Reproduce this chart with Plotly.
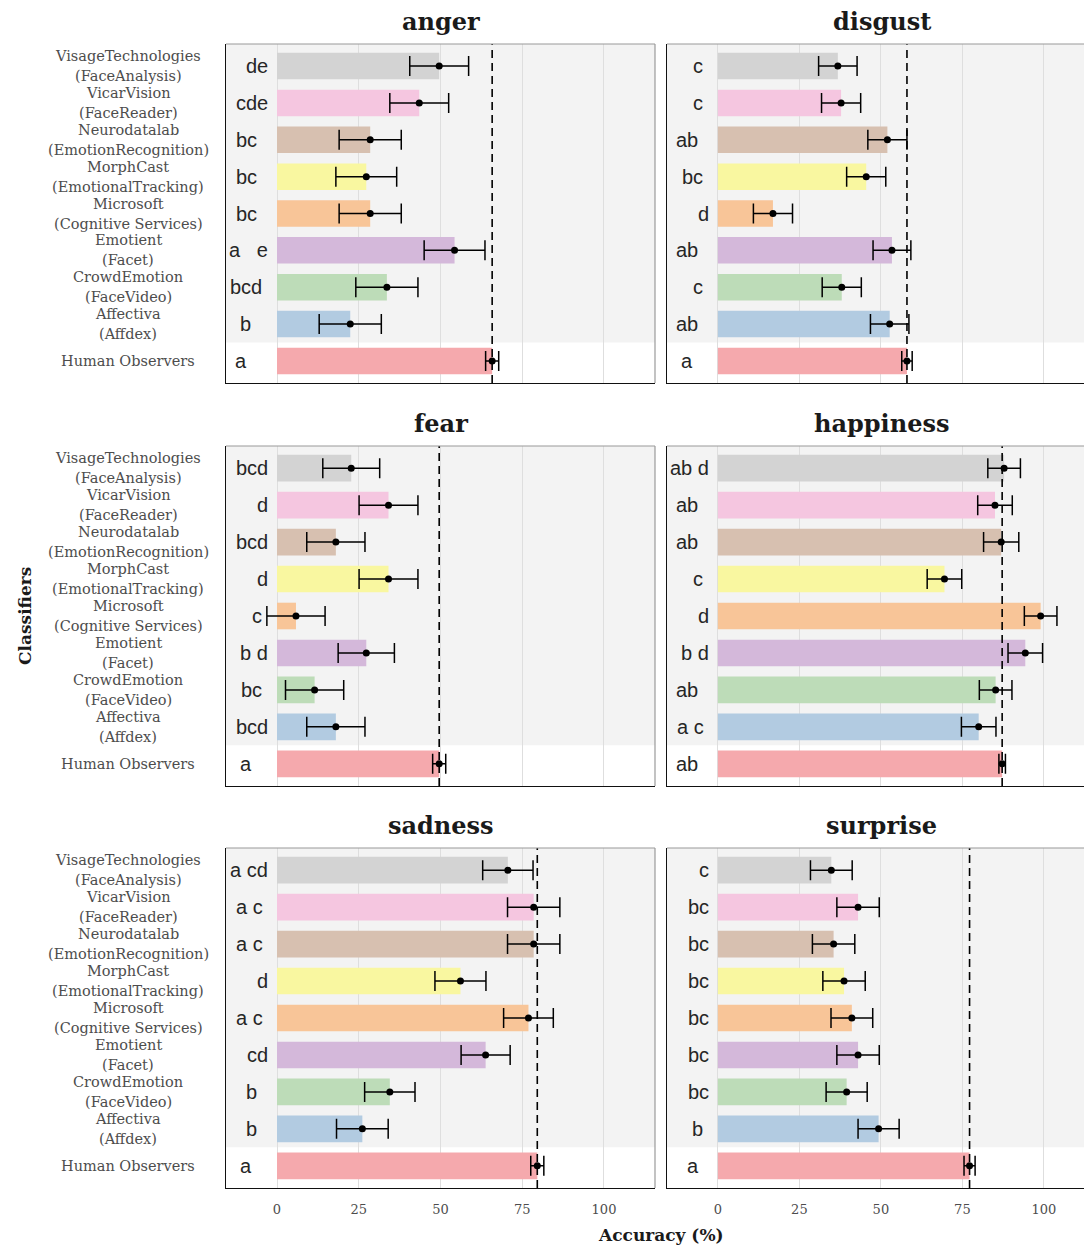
import plotly.graph_objects as go

# ---------------- data (top-to-bottom order as drawn) ----------------
classifier_names = ["VisageTechnologies", "VicarVision", "Neurodatalab", "MorphCast",
                    "Microsoft", "Emotient", "CrowdEmotion", "Affectiva", "Human Observers"]
classifier_subs = ["(FaceAnalysis)", "(FaceReader)", "(EmotionRecognition)", "(EmotionalTracking)",
                   "(Cognitive Services)", "(Facet)", "(FaceVideo)", "(Affdex)", ""]
bar_colors = ["#d3d3d3", "#f5c6e0", "#d7c0b0", "#f9f7a0", "#f8c598",
              "#d4b8da", "#bddcb8", "#b2cbe1", "#f5a9ad"]

emotions = ["anger", "disgust", "fear", "happiness", "sadness", "surprise"]

anger_mean = [49.6, 43.5, 28.5, 27.3, 28.5, 54.3, 33.6, 22.4, 65.8]
anger_err = [9.0, 9.0, 9.5, 9.3, 9.5, 9.3, 9.5, 9.5, 2.0]
anger_letters = ["de", "cde", "bc", "bc", "bc", "ae", "bcd", "b", "a"]

disgust_mean = [36.8, 37.8, 52.0, 45.5, 16.9, 53.4, 38.0, 52.7, 58.0]
disgust_err = [5.9, 6.0, 6.0, 6.0, 6.0, 5.8, 6.0, 5.9, 1.6]
disgust_letters = ["c", "c", "ab", "bc", "d", "ab", "c", "ab", "a"]

fear_mean = [22.7, 34.1, 18.0, 34.1, 5.8, 27.3, 11.5, 18.0, 49.6]
fear_err = [8.7, 9.0, 8.9, 9.0, 8.9, 8.6, 8.9, 8.9, 2.0]
fear_letters = ["bcd", "d", "bcd", "d", "c", "bd", "bc", "bcd", "a"]

happiness_mean = [87.8, 85.0, 86.9, 69.5, 99.0, 94.3, 85.2, 80.0, 87.2]
happiness_err = [5.0, 5.3, 5.4, 5.3, 5.0, 5.3, 5.0, 5.3, 1.0]
happiness_letters = ["abd", "ab", "ab", "c", "d", "bd", "ab", "ac", "ab"]

sadness_mean = [70.6, 78.5, 78.5, 56.1, 76.9, 63.8, 34.5, 26.1, 79.6]
sadness_err = [7.7, 8.0, 8.0, 7.8, 7.6, 7.5, 7.7, 7.9, 2.0]
sadness_letters = ["acd", "ac", "ac", "d", "ac", "cd", "b", "b", "a"]

surprise_mean = [34.8, 43.0, 35.5, 38.7, 41.1, 43.0, 39.5, 49.3, 77.2]
surprise_err = [6.4, 6.5, 6.5, 6.5, 6.4, 6.5, 6.3, 6.3, 1.7]
surprise_letters = ["c", "bc", "bc", "bc", "bc", "bc", "bc", "b", "a"]

x_ticks = [0, 25, 50, 75, 100]

panel_data = {
    "anger": (anger_mean, anger_err, anger_letters),
    "disgust": (disgust_mean, disgust_err, disgust_letters),
    "fear": (fear_mean, fear_err, fear_letters),
    "happiness": (happiness_mean, happiness_err, happiness_letters),
    "sadness": (sadness_mean, sadness_err, sadness_letters),
    "surprise": (surprise_mean, surprise_err, surprise_letters),
}

# ---------------- layout geometry ----------------
W, H = 1084, 1250
def px_x(p): return p / W
def px_y(p): return 1 - p / H

col_px = [(226, 655), (667, 1084)]
row_px = [(44, 383), (446, 786), (848, 1188)]
x_ranges = [[-15.6, 115.6], [-15.6, 112.3]]
y_range = [-0.6, 8.6]

cats = [f"{n} {s}".strip() for n, s in zip(classifier_names, classifier_subs)]
cat_order = cats[::-1]  # bottom to top

SERIF = "DejaVu Serif"
SANS = "Liberation Sans"
TXT = "#4d4d4d"

def pad_letters(s, maxch):
    out = ""
    for c in "abcdefgh":
        if c > maxch:
            break
        out += c if c in s else "\u00a0"
    return out.lstrip("\u00a0")

fig = go.Figure()
shapes = []
annotations = []
layout = {}

for i, emo in enumerate(emotions):
    r, c = divmod(i, 2)
    n = i + 1
    xa = "x" if n == 1 else f"x{n}"
    ya = "y" if n == 1 else f"y{n}"
    mean, err, letters = panel_data[emo]

    fig.add_trace(go.Bar(
        x=mean, y=cats, orientation="h", width=0.72,
        marker=dict(color=bar_colors, line=dict(width=0)),
        xaxis=xa, yaxis=ya, showlegend=False, hoverinfo="skip"))
    fig.add_trace(go.Scatter(
        x=mean, y=cats, mode="markers",
        marker=dict(color="black", size=7),
        error_x=dict(type="data", array=err, visible=True, color="black",
                     thickness=1.5, width=10),
        xaxis=xa, yaxis=ya, showlegend=False, hoverinfo="skip"))

    x0p, x1p = col_px[c]
    y0p, y1p = row_px[r]
    layout["xaxis" if n == 1 else f"xaxis{n}"] = dict(
        domain=[px_x(x0p), px_x(x1p)], anchor=ya, range=x_ranges[c],
        tickvals=x_ticks, showgrid=True, gridcolor="#dedede", gridwidth=1,
        zeroline=False, showline=True, linecolor="#111111", linewidth=1.4,
        showticklabels=(r == 2), ticks="", ticklabelstandoff=9,
        tickfont=dict(family=SERIF, size=13, color=TXT), fixedrange=True)
    layout["yaxis" if n == 1 else f"yaxis{n}"] = dict(
        domain=[px_y(y1p), px_y(y0p)], anchor=xa, type="category",
        categoryorder="array", categoryarray=cat_order, range=y_range,
        showgrid=False, zeroline=False, showticklabels=False,
        showline=True, linecolor="#111111", linewidth=1.4, fixedrange=True)

    # gray band behind classifier rows
    shapes.append(dict(type="rect", xref=f"{xa} domain", yref=ya, x0=0, x1=1,
                       y0=0.5, y1=8.6, fillcolor="#f3f3f3",
                       line=dict(width=0), layer="below"))
    # dashed human reference line
    shapes.append(dict(type="line", xref=xa, yref=f"{ya} domain",
                       x0=mean[-1], x1=mean[-1], y0=0, y1=1,
                       line=dict(color="black", width=1.6, dash="8px,5px")))
    # panel border (top / right in gray)
    shapes.append(dict(type="line", xref="paper", yref="paper",
                       x0=px_x(x0p), x1=px_x(x1p), y0=px_y(y0p), y1=px_y(y0p),
                       line=dict(color="#9a9a9a", width=1.2)))
    if c == 0:
        shapes.append(dict(type="line", xref="paper", yref="paper",
                           x0=px_x(x1p), x1=px_x(x1p), y0=px_y(y0p), y1=px_y(y1p),
                           line=dict(color="#9a9a9a", width=1.2)))

    # panel title
    annotations.append(dict(text=f"<b>{emo}</b>", xref="paper", yref="paper",
                            x=px_x((col_px[c][0] + col_px[c][0] + 429) / 2),
                            y=px_y(y0p - 23), xanchor="center", yanchor="middle",
                            showarrow=False,
                            font=dict(family=SERIF, size=24, color="#1a1a1a")))

    # significance letters
    maxch = max(max(s) for s in letters)
    for cat, s in zip(cats, letters):
        annotations.append(dict(text=pad_letters(s, maxch), xref=xa, yref=ya,
                                x=-2.2, y=cat, xanchor="right", yanchor="middle",
                                showarrow=False,
                                font=dict(family=SANS, size=20, color="#262626")))

    # classifier labels on left column
    if c == 0:
        for cat, nm, sub in zip(cats, classifier_names, classifier_subs):
            if sub:
                annotations.append(dict(text=nm, xref="paper", yref=ya, x=px_x(128),
                                        y=cat, yshift=10, xanchor="center", yanchor="middle",
                                        showarrow=False,
                                        font=dict(family=SERIF, size=14.5, color=TXT)))
                annotations.append(dict(text=sub, xref="paper", yref=ya, x=px_x(128),
                                        y=cat, yshift=-10, xanchor="center", yanchor="middle",
                                        showarrow=False,
                                        font=dict(family=SERIF, size=14.5, color=TXT)))
            else:
                annotations.append(dict(text=nm, xref="paper", yref=ya, x=px_x(128),
                                        y=cat, xanchor="center", yanchor="middle",
                                        showarrow=False,
                                        font=dict(family=SERIF, size=14.5, color=TXT)))

# axis titles
annotations.append(dict(text="<b>Accuracy (%)</b>", xref="paper", yref="paper",
                        x=px_x(661), y=px_y(1235), xanchor="center", yanchor="middle",
                        showarrow=False, font=dict(family=SERIF, size=17, color="#1a1a1a")))
annotations.append(dict(text="<b>Classifiers</b>", xref="paper", yref="paper",
                        x=px_x(25), y=px_y(616), xanchor="center", yanchor="middle",
                        textangle=-90, showarrow=False,
                        font=dict(family=SERIF, size=17, color="#1a1a1a")))

fig.update_layout(
    width=W, height=H, margin=dict(l=0, r=0, t=0, b=0),
    paper_bgcolor="white", plot_bgcolor="white",
    shapes=shapes, annotations=annotations, bargap=0.28, **layout)

fig.write_html("out.html")
